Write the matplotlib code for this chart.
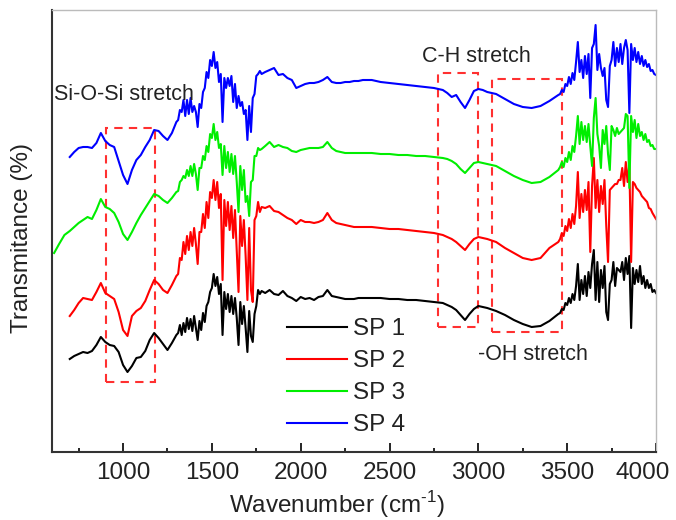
import matplotlib
matplotlib.use("Agg")
import matplotlib.pyplot as plt
from matplotlib.patches import Rectangle
from matplotlib.transforms import ScaledTranslation

plt.rcParams['font.family'] = ['Liberation Sans', 'DejaVu Sans']
plt.rcParams['mathtext.fontset'] = 'custom'
plt.rcParams['mathtext.rm'] = 'Liberation Sans'

# ---- wavenumber grid (cm^-1), by region ----
wn_a = list(range(700, 1301, 25))          # 25 pts
wn_bc = list(range(1310, 1781, 10))        # 48 pts
wn_d = list(range(1800, 2401, 25))         # 25 pts
wn_e = [2450, 2500, 2550, 2600, 2650, 2700, 2750, 2800, 2825, 2850, 2875, 2900, 2925,
        2950, 2975, 3000, 3025, 3050, 3100, 3150, 3200, 3250, 3300, 3350, 3400, 3450]
wn_f = list(range(3460, 4001, 10))         # 55 pts

# extra start points of SP 3
wn_sp3_head = [612, 640, 670]
sp3_head = [199, 208, 217]

# ---- transmittance (arbitrary, offset) ----
sp1_a = [93, 96, 98, 100, 99, 101, 107, 115, 110, 107, 106, 100, 87, 80, 86, 94, 95, 101, 112, 119, 114, 108, 102, 109, 117]
sp1_bc = [119, 127, 117, 129, 120, 134, 123, 133, 121, 136, 124, 112, 131, 122, 139, 130,
          146, 150, 160, 164, 178, 166, 175, 158, 168, 117, 160, 143, 158, 140, 156, 138, 154, 134, 107, 150,
          128, 146, 124, 100, 141, 116, 110, 138, 146, 162, 158, 161]
sp1_d = [159, 162, 158, 157, 161, 156, 154, 151, 155, 153, 154, 152, 155, 156, 162, 156, 155, 154, 153, 153, 153, 154, 154, 154, 154]
sp1_e = [154, 153, 153, 152, 152, 151, 150, 149, 147, 145, 142, 137, 132, 138, 143, 146, 145, 144, 141, 137, 132, 128, 125, 126, 131, 138]
sp1_f = [139, 143, 142, 149, 147, 154, 149, 158, 152, 166, 188, 152, 172, 158, 176, 156, 180, 164, 188, 202,
         152, 190, 150, 182, 164, 186, 140, 132, 168, 172, 190, 166, 184, 182, 180, 190, 172, 194, 178, 196,
         124, 184, 168, 182, 170, 186, 168, 176, 164, 172, 164, 168, 160, 162, 159]

sp2_a = [136, 142, 149, 154, 153, 152, 160, 169, 159, 156, 153, 140, 122, 116, 136, 141, 144, 151, 162, 172, 168, 162, 159, 167, 176]
sp2_bc = [178, 194, 192, 210, 198, 216, 202, 220, 206, 224, 208, 188, 220, 220, 238, 224,
          250, 234, 260, 254, 272, 252, 270, 244, 258, 172, 252, 226, 250, 222, 246, 214, 242, 200, 160, 236,
          206, 232, 196, 152, 224, 162, 150, 232, 236, 250, 240, 245]
sp2_d = [244, 246, 241, 240, 237, 234, 232, 228, 232, 230, 230, 229, 230, 232, 239, 232, 229, 228, 227, 226, 225, 225, 225, 225, 225]
sp2_e = [224, 223, 223, 222, 221, 220, 219, 217, 215, 213, 210, 206, 202, 208, 213, 215, 214, 213, 210, 204, 199, 194, 192, 194, 204, 210]
sp2_f = [213, 219, 216, 226, 221, 233, 224, 238, 228, 246, 280, 234, 258, 240, 262, 242, 270, 200, 266, 294,
         244, 272, 240, 266, 248, 272, 226, 190, 262, 264, 266, 268, 268, 272, 272, 284, 266, 290, 270, 288,
         190, 270, 268, 264, 262, 260, 256, 254, 252, 250, 244, 243, 239, 236, 233]

sp3_a = [221, 225, 229, 232, 235, 233, 242, 253, 245, 243, 239, 230, 218, 212, 220, 229, 237, 244, 251, 258, 256, 252, 249, 254, 260]
sp3_bc = [261, 270, 272, 276, 274, 282, 276, 286, 276, 288, 278, 262, 284, 284, 296, 292,
          306, 300, 318, 314, 328, 312, 320, 304, 308, 277, 306, 284, 300, 280, 298, 278, 296, 270, 240, 286,
          262, 282, 250, 256, 236, 270, 272, 296, 296, 304, 302, 303]
sp3_d = [306, 310, 305, 307, 305, 304, 301, 300, 302, 303, 304, 304, 304, 305, 310, 304, 301, 300, 299, 299, 299, 299, 299, 299, 299]
sp3_e = [298, 298, 297, 297, 296, 296, 295, 294, 293, 291, 288, 283, 279, 284, 289, 290, 289, 288, 286, 281, 276, 272, 269, 270, 275, 282]
sp3_f = [285, 290, 285, 294, 290, 300, 292, 306, 300, 316, 336, 308, 330, 312, 326, 310, 328, 306, 286, 334,
         354, 318, 306, 284, 322, 308, 326, 298, 282, 326, 322, 316, 324, 318, 320, 322, 324, 338, 336, 264,
         336, 320, 332, 314, 328, 316, 320, 312, 318, 310, 312, 306, 307, 303, 303]

sp4_a = [295, 300, 304, 305, 305, 304, 309, 319, 311, 307, 305, 291, 277, 268, 282, 292, 297, 305, 312, 322, 321, 316, 312, 319, 330]
sp4_bc = [332, 342, 340, 352, 336, 352, 338, 354, 340, 346, 340, 325, 348, 344, 360, 364,
          380, 374, 392, 386, 400, 384, 390, 370, 378, 330, 374, 364, 374, 366, 376, 350, 368, 344, 356, 346,
          350, 338, 342, 312, 346, 320, 354, 358, 376, 378, 381, 378]
sp4_d = [380, 382, 384, 377, 378, 374, 372, 364, 366, 368, 369, 369, 370, 372, 375, 370, 369, 369, 370, 370, 371, 371, 372, 372, 372]
sp4_e = [370, 369, 368, 367, 366, 365, 364, 362, 359, 355, 357, 350, 344, 352, 361, 363, 362, 360, 358, 353, 348, 345, 344, 346, 351, 357]
sp4_f = [358, 362, 360, 368, 366, 375, 368, 379, 372, 390, 410, 380, 392, 374, 396, 378, 398, 354, 404, 408,
         427, 382, 398, 384, 376, 384, 352, 345, 386, 392, 410, 386, 404, 390, 408, 388, 404, 412, 402, 339,
         408, 392, 404, 390, 400, 388, 396, 386, 392, 385, 388, 381, 382, 378, 377]

labels = ["SP 1", "SP 2", "SP 3", "SP 4"]
colors = ["#000000", "#ff0000", "#00ee00", "#0000ff"]

# annotation boxes: (x0, x1, y0, y1) in data units
box_si = (904, 1180, 70, 324)
box_ch = (2775, 3000, 125, 379)
box_oh = (3079, 3472, 120, 373)
notes = [("Si-O-Si stretch", 612, 357), ("C-H stretch", 2685, 395), ("-OH stretch", 3000, 98)]


def join(segs_x, segs_y):
    xs, ys = [], []
    for sx, sy in zip(segs_x, segs_y):
        n = min(len(sx), len(sy))
        xs += list(sx[:n])
        ys += list(sy[:n])
    return xs, ys


grid = [wn_a, wn_bc, wn_d, wn_e, wn_f]
series = [
    join(grid, [sp1_a, sp1_bc, sp1_d, sp1_e, sp1_f]),
    join(grid, [sp2_a, sp2_bc, sp2_d, sp2_e, sp2_f]),
    join([wn_sp3_head] + grid, [sp3_head, sp3_a, sp3_bc, sp3_d, sp3_e, sp3_f]),
    join(grid, [sp4_a, sp4_bc, sp4_d, sp4_e, sp4_f]),
]

fig = plt.figure(figsize=(6.76, 5.2), dpi=100)
ax = fig.add_axes([52 / 676, 1 - 452 / 520, 604 / 676, 442 / 520])

for (x, y), lab, c in zip(series, labels, colors):
    ax.plot(x, y, color=c, lw=1.5, label=lab)

for (x0, x1, y0, y1) in (box_si, box_ch, box_oh):
    ax.add_patch(Rectangle((x0, y0), x1 - x0, y1 - y0, fill=False, edgecolor="#ff3030",
                           lw=1.5, linestyle=(0, (4, 3))))

for txt, tx, ty in notes:
    ax.text(tx, ty, txt, fontsize=15.5, color="#222222", ha="left", va="center")

ax.set_xlim(600, 4000)
ax.set_ylim(0, 442)
ax.set_xticks([1000, 1500, 2000, 2500, 3000, 3500, 4000])
ax.set_xticks([750, 1250, 1750, 2250, 2750, 3250, 3750], minor=True)
ax.set_yticks([])
ax.tick_params(axis="x", which="major", direction="in", length=6.5, width=1.2,
               labelsize=17.5, labelcolor="#222222", pad=7, top=False)
ax.tick_params(axis="x", which="minor", direction="in", length=3, width=1.2, top=False)

for s in ("left", "bottom"):
    ax.spines[s].set_color("#333333")
    ax.spines[s].set_linewidth(1.5)
for s in ("top", "right"):
    ax.spines[s].set_color("#bbbbbb")
    ax.spines[s].set_linewidth(1.0)

fig.text(337 / 676, 1 - 513 / 520, "Wavenumber (cm$^{\\text{-1}}$)", fontsize=17.5,
         color="#222222", ha="center", va="baseline")
fig.text(22 / 676, 1 - 238 / 520, "Transmitance (%)", rotation=90, fontsize=17.5,
         color="#222222", ha="center", va="center")

ax.legend(loc="upper left", bbox_to_anchor=(0.389, 0.303), borderaxespad=0, borderpad=0,
          handlelength=2.45, handletextpad=0.25, labelspacing=0.41, frameon=False,
          fontsize=17.5, labelcolor="#222222")

fig.canvas.draw()
last = ax.get_xticklabels()[-1]
last.set_transform(last.get_transform() + ScaledTranslation(-13 / 100, 0, fig.dpi_scale_trans))

fig.savefig("out.png", dpi=100)
